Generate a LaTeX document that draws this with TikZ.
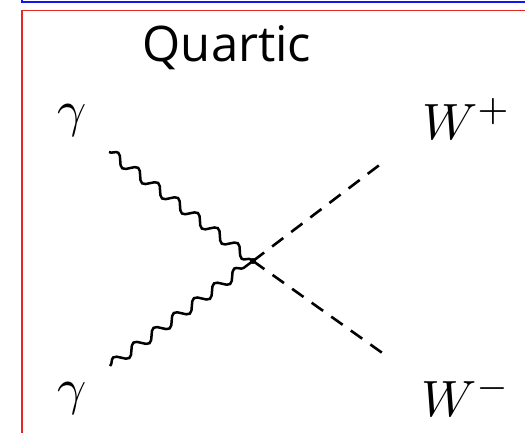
\documentclass[tikz,border=0pt]{standalone}
\usepackage{fontspec}
\newfontfamily\titlefont{Open Sans}
\usetikzlibrary{decorations.pathmorphing}
\definecolor{framered}{RGB}{228,40,40}
\definecolor{frameblue}{RGB}{20,20,240}
\tikzset{
  photon/.style={line width=2.5pt, decorate, decoration={snake, segment length=25pt, amplitude=5pt, pre length=0pt, post length=2pt}},
  scalar/.style={line width=2.6pt, dash pattern=on 14pt off 10pt},
  lbl/.style={inner sep=0pt, scale=5.1},
  frame/.style={line width=1.4pt}
}
\begin{document}
\begin{tikzpicture}[x=1pt,y=-1pt]
\clip (0,0) rectangle (525,432);
\fill[white] (0,0) rectangle (525,432);
% frames
\draw[frame, frameblue] (22,-20) -- (22,2) -- (540,2);
\draw[frame, framered] (22,445) -- (22,10.5) -- (540,10.5);
% title
\node[inner sep=0pt, anchor=base, font=\titlefont\fontsize{49}{49}\selectfont] (title) at (227,61) {Quartic};
% labels
\node[lbl, anchor=center] (g1) at (72,120) {$\gamma$};
\node[lbl, anchor=center] (g2) at (72,398) {$\gamma$};
\node[lbl, anchor=base west] (wp) at (421,139) {$W^{+}$};
\node[lbl, anchor=base west] (wm) at (420,416) {$W^{-}$};
% vertices
\coordinate (v) at (253,261);
\coordinate (p1) at (109,152);
\coordinate (p2) at (110,366);
\coordinate (s1) at (386,160);
\coordinate (s2) at (388,357);
\draw[photon] (p1) -- (v);
\draw[photon] (p2) -- (v);
\draw[scalar] (v) -- (s1);
\draw[scalar] (v) -- (s2);
\fill (v) circle (3pt);
\end{tikzpicture}
\end{document}
